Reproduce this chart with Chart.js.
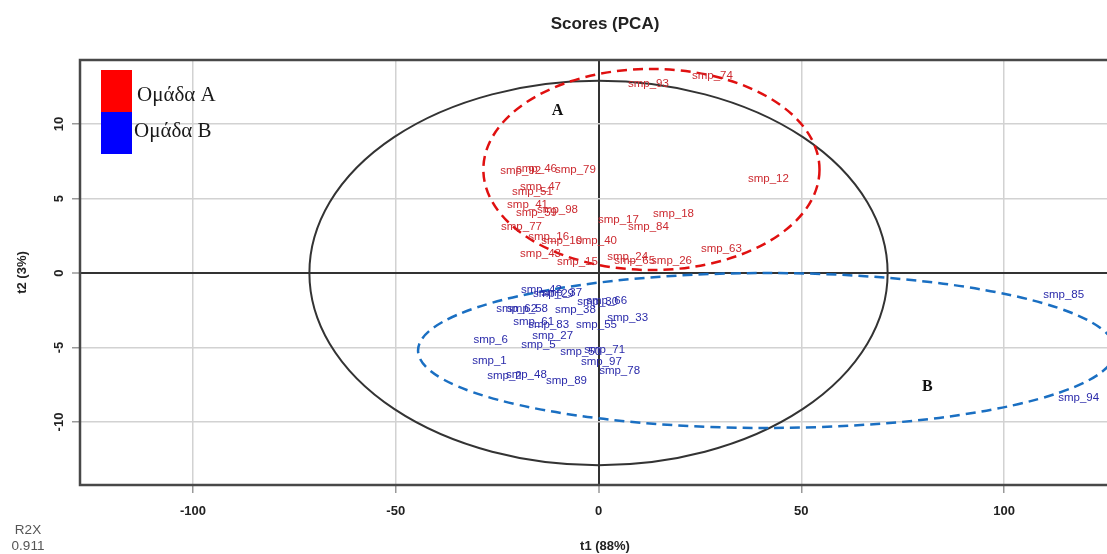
<!DOCTYPE html>
<html>
<head>
<meta charset="utf-8">
<script src="https://cdn.jsdelivr.net/npm/chart.js@4/dist/chart.umd.min.js"></script>
<style>
  html, body { margin: 0; padding: 0; background: #fff; overflow: hidden; }
  #wrap { width: 1130px; height: 554px; }
</style>
</head>
<body>
<div id="wrap"><canvas id="scores" width="1130" height="554"></canvas></div>
<script>
// PCA score values (t1, t2) per sample
const groupANames = ['smp_74','smp_93','smp_12','smp_92','smp_46','smp_79','smp_51','smp_47','smp_41','smp_59','smp_98','smp_17','smp_18','smp_84','smp_77','smp_16','smp_10','smp_40','smp_43','smp_15','smp_24','smp_65','smp_26','smp_63'];
const groupAT1 = [28.1, 12.3, 41.9, -19.2, -15.3, -5.7, -16.3, -14.3, -17.5, -15.3, -10.1, 4.9, 18.5, 12.3, -19.0, -12.3, -9.1, -0.5, -14.3, -5.2, 7.2, 8.9, 18.0, 30.3];
const groupAT2 = [13.22, 12.68, 6.31, 6.85, 6.98, 6.91, 5.44, 5.77, 4.56, 4.03, 4.23, 3.56, 3.96, 3.09, 3.09, 2.42, 2.15, 2.15, 1.28, 0.74, 1.07, 0.81, 0.81, 1.61];

const groupBNames = ['smp_85','smp_94','smp_42','smp_29','smp_37','smp_30','smp_66','smp_62','smp_58','smp_38','smp_61','smp_83','smp_55','smp_33','smp_6','smp_27','smp_5','smp_50','smp_71','smp_97','smp_78','smp_1','smp_2','smp_48','smp_89'];
const groupBT1 = [114.7, 118.4, -14.1, -11.1, -9.1, -0.2, 2.0, -20.2, -17.5, -5.7, -16.0, -12.3, -0.5, 7.2, -26.6, -11.3, -14.8, -4.4, 1.5, 0.7, 5.2, -26.9, -23.2, -17.8, -7.9];
const groupBT2 = [-1.48, -8.39, -1.14, -1.41, -1.34, -1.95, -1.88, -2.42, -2.42, -2.48, -3.29, -3.49, -3.49, -3.02, -4.50, -4.23, -4.83, -5.30, -5.17, -5.97, -6.58, -5.91, -6.91, -6.85, -7.25];

const groupLabels = ['Ομάδα A', 'Ομάδα B'];
const xTicks = [-100, -50, 0, 50, 100];
const yTicks = [-10, -5, 0, 5, 10];
const t1Range = [-127.87, 131.07];
const t2Range = [-14.23, 14.30];

// Ellipses in score units: [centre t1, centre t2, half-width, half-height]
const hotellingEllipse = [0, 0, 71.3, 12.9];
const groupAEllipse = [13.05, 6.95, 41.45, 6.75];
const groupBEllipse = [41.5, -5.2, 86, 5.2];

// Group tags placed inside the ellipses [t1, t2]
const tagA = [-10.1, 10.87];
const tagB = [81.1, -7.65];

const r2x = '0.911';

const colA = '#cc2a30';
const colB = '#2a2aaa';
const sans = '"Liberation Sans", Arial, sans-serif';
const serif = '"Liberation Serif", "Times New Roman", serif';

function toPoints(xs, ys) { return xs.map((x, i) => ({ x: x, y: ys[i] })); }
const nameSets = [groupANames, groupBNames];

const ellipsePlugin = {
  id: 'ellipses',
  beforeDatasetsDraw(chart) {
    const { ctx, chartArea: a, scales: { x, y } } = chart;
    const draw = (e, color, width, dash) => {
      const cx = x.getPixelForValue(e[0]);
      const cy = y.getPixelForValue(e[1]);
      const rx = Math.abs(x.getPixelForValue(e[0] + e[2]) - cx);
      const ry = Math.abs(y.getPixelForValue(e[1] + e[3]) - cy);
      ctx.save();
      ctx.strokeStyle = color;
      ctx.lineWidth = width;
      ctx.setLineDash(dash);
      ctx.beginPath();
      ctx.ellipse(cx, cy, rx, ry, 0, 0, Math.PI * 2);
      ctx.stroke();
      ctx.restore();
    };
    ctx.save();
    ctx.beginPath();
    ctx.rect(a.left, a.top, a.right - a.left, a.bottom - a.top);
    ctx.clip();
    draw(hotellingEllipse, '#333333', 2, []);
    draw(groupAEllipse, '#e01010', 2.5, [10, 6]);
    draw(groupBEllipse, '#1a6fc2', 2.5, [10, 6]);
    ctx.restore();
  }
};

const labelPlugin = {
  id: 'sampleLabels',
  afterDatasetsDraw(chart) {
    const { ctx, scales: { x, y } } = chart;
    ctx.save();
    ctx.font = '11.5px ' + sans;
    ctx.textAlign = 'center';
    ctx.textBaseline = 'middle';
    chart.data.datasets.forEach((ds, di) => {
      const meta = chart.getDatasetMeta(di);
      ctx.fillStyle = ds.textColor;
      meta.data.forEach((el, i) => {
        ctx.fillText(nameSets[di][i], el.x, el.y);
      });
    });
    ctx.font = 'bold 16px ' + serif;
    ctx.fillStyle = '#111';
    ctx.fillText('A', x.getPixelForValue(tagA[0]), y.getPixelForValue(tagA[1]));
    ctx.fillText('B', x.getPixelForValue(tagB[0]), y.getPixelForValue(tagB[1]));
    ctx.restore();
  }
};

const framePlugin = {
  id: 'frame',
  afterDraw(chart) {
    const { ctx, chartArea: a, scales: { y } } = chart;
    ctx.save();
    // plot frame
    ctx.strokeStyle = '#484848';
    ctx.lineWidth = 2.5;
    ctx.strokeRect(a.left, a.top, a.right - a.left, a.bottom - a.top);

    // vertical tick labels on the t2 axis
    ctx.font = 'bold 13px ' + sans;
    ctx.fillStyle = '#222';
    ctx.textAlign = 'center';
    ctx.textBaseline = 'middle';
    yTicks.forEach(v => {
      const py = y.getPixelForValue(v);
      ctx.save();
      ctx.translate(59, py);
      ctx.rotate(-Math.PI / 2);
      ctx.fillText(String(v), 0, 0);
      ctx.restore();
    });

    // R2X summary
    ctx.font = '13.5px ' + sans;
    ctx.fillStyle = '#555';
    ctx.fillText('R2X', 28, 530);
    ctx.fillText(r2x, 28, 546);

    // legend
    const items = [
      { label: chart.data.datasets[0].label, color: '#ff0000', top: 70, text: [137, 101] },
      { label: chart.data.datasets[1].label, color: '#0000ff', top: 112, text: [134, 137] }
    ];
    ctx.font = '21px ' + serif;
    ctx.textAlign = 'left';
    ctx.textBaseline = 'alphabetic';
    items.forEach(it => {
      ctx.fillStyle = it.color;
      ctx.fillRect(101, it.top, 31, 42);
      ctx.fillStyle = '#1a1a1a';
      ctx.fillText(it.label, it.text[0], it.text[1]);
    });
    ctx.restore();
  }
};

const gridColor = ctx => (ctx.tick && ctx.tick.value === 0) ? '#333333' : '#d2d2d2';
const gridWidth = ctx => (ctx.tick && ctx.tick.value === 0) ? 2 : 1.5;

new Chart(document.getElementById('scores'), {
  type: 'scatter',
  data: {
    datasets: [
      { label: groupLabels[0], data: toPoints(groupAT1, groupAT2), pointRadius: 0, pointHoverRadius: 0, backgroundColor: '#ff0000', textColor: colA },
      { label: groupLabels[1], data: toPoints(groupBT1, groupBT2), pointRadius: 0, pointHoverRadius: 0, backgroundColor: '#0000ff', textColor: colB }
    ]
  },
  options: {
    responsive: false,
    animation: false,
    events: [],
    layout: { padding: 0 },
    plugins: {
      legend: { display: false },
      tooltip: { enabled: false },
      title: {
        display: true,
        text: 'Scores (PCA)',
        fullSize: false,
        color: '#222',
        font: { family: sans, size: 17, weight: 'bold' },
        padding: { top: 13.8, bottom: 25.8 }
      }
    },
    scales: {
      x: {
        type: 'linear',
        min: t1Range[0],
        max: t1Range[1],
        afterBuildTicks: s => { s.ticks = xTicks.map(v => ({ value: v })); },
        afterFit: s => { s.height = 69; },
        grid: { color: gridColor, lineWidth: gridWidth, tickLength: 8, tickColor: '#999', tickWidth: 1.5 },
        border: { display: false },
        ticks: { color: '#222', font: { family: sans, size: 13, weight: 'bold' }, padding: 11, maxRotation: 0 },
        title: { display: true, text: 't1 (88%)', color: '#222', font: { family: sans, size: 13, weight: 'bold' }, padding: { top: 0, bottom: 0 } }
      },
      y: {
        type: 'linear',
        min: t2Range[0],
        max: t2Range[1],
        afterBuildTicks: s => { s.ticks = yTicks.map(v => ({ value: v })); },
        afterFit: s => { s.width = 80; },
        grid: { color: gridColor, lineWidth: gridWidth, tickLength: 8, tickColor: '#999', tickWidth: 1.5 },
        border: { display: false },
        ticks: { display: false },
        title: { display: true, text: 't2 (3%)', color: '#222', font: { family: sans, size: 13, weight: 'bold' }, padding: { top: 15, bottom: 0 } }
      }
    }
  },
  plugins: [ellipsePlugin, labelPlugin, framePlugin]
});
</script>
</body>
</html>
